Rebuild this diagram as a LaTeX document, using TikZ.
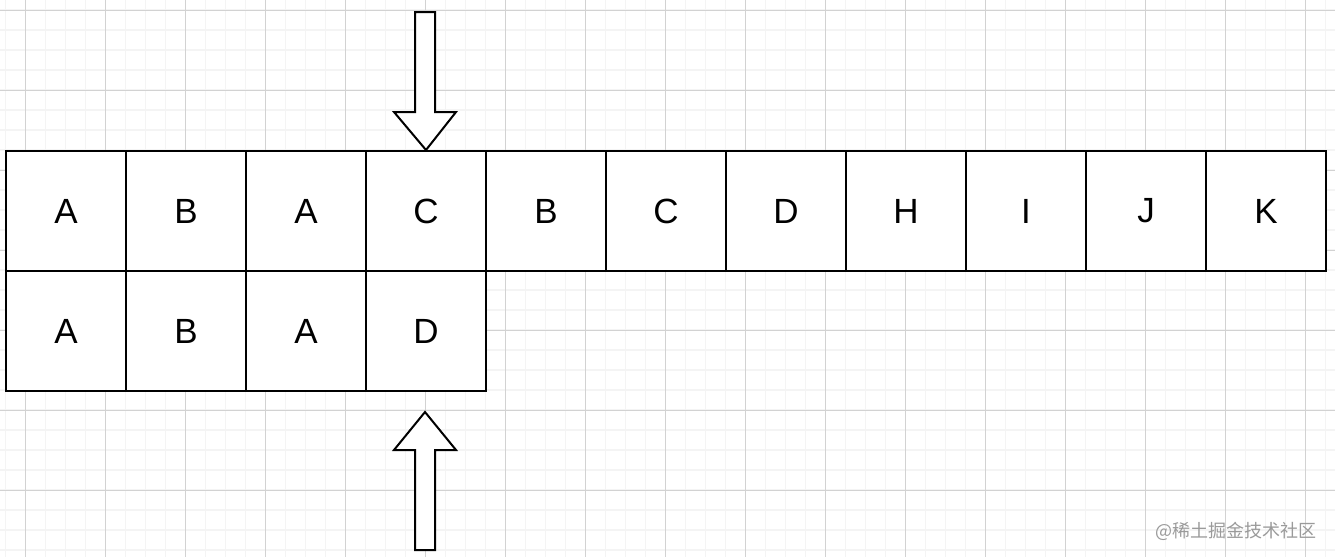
\documentclass[tikz,border=0pt]{standalone}
\usepackage{fontspec}
\setmainfont{Liberation Sans}
\newfontfamily\cjk{Noto Sans CJK SC}
\definecolor{minorgrid}{HTML}{F4F4F4}
\definecolor{majorgrid}{HTML}{D2D2D2}
\definecolor{wmark}{HTML}{9A9A9A}
\tikzset{
  cellbox/.style={draw=black, fill=white, line width=2pt, minimum width=120pt, minimum height=120pt, inner sep=0pt, font=\fontsize{35}{42}\selectfont},
  bigarrow/.style={draw=black, fill=white, line width=2pt, line join=miter},
}
\begin{document}
\begin{tikzpicture}[x=1pt,y=-1pt]
\useasboundingbox (0,0) rectangle (1335,557);
\fill[white] (0,0) rectangle (1335,557);
% minor grid
\foreach \x in {5.7,25.7,...,1335} \draw[minorgrid, line width=1.2pt] (\x,0) -- (\x,557);
\foreach \y in {10,30,...,557} \draw[minorgrid, line width=1.2pt] (0,\y) -- (1335,\y);
% major grid
\foreach \x in {25.7,105.7,...,1335} \draw[majorgrid, line width=1pt] (\x,0) -- (\x,557);
\foreach \y in {10,90,...,557} \draw[majorgrid, line width=1pt] (0,\y) -- (1335,\y);
% top row
\foreach \t [count=\i from 0] in {A,B,A,C,B,C,D,H,I,J,K}
  \node[cellbox] (t\i) at (66+120*\i,211) {\t};
% bottom row
\foreach \t [count=\i from 0] in {A,B,A,D}
  \node[cellbox] (b\i) at (66+120*\i,331) {\t};
% arrows
\draw[bigarrow] (415,12) -- (435,12) -- (435,112) -- (456,112) -- (t3.north) -- (394,112) -- (415,112) -- cycle;
\draw[bigarrow] (425,412) -- (456,450) -- (435,450) -- (435,550) -- (415,550) -- (415,450) -- (394,450) -- cycle;
% watermark
\node[anchor=base east, text=wmark, font=\cjk\fontsize{18}{20}\selectfont, inner sep=0pt] (wm) at (1317,537) {@稀土掘金技术社区};
\end{tikzpicture}
\end{document}
